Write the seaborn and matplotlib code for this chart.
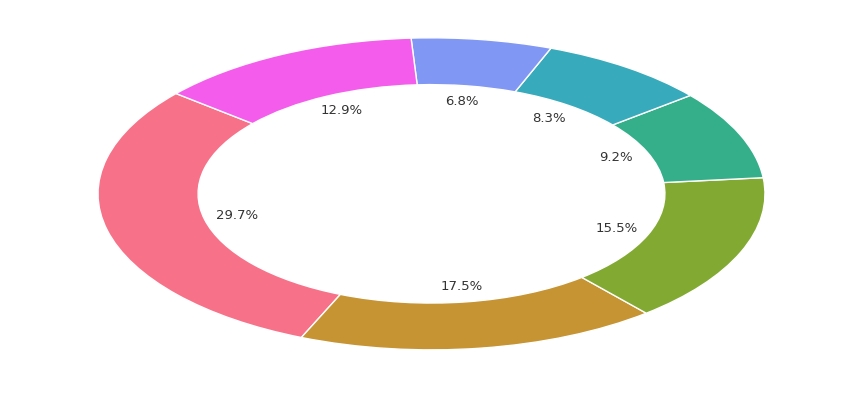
import matplotlib
matplotlib.use("Agg")
import matplotlib.pyplot as plt
import seaborn as sns

categories = ["A", "B", "C", "D", "E", "F", "G"]
values = [29.7, 17.5, 15.5, 9.2, 8.3, 6.8, 12.9]

colors = sns.color_palette("husl", len(values))

fig = plt.figure(figsize=(8.63, 3.96), dpi=100)
ax = fig.add_axes([0.017, 0.018, 0.966, 0.985])
wedges, texts, autotexts = ax.pie(
    values, colors=colors, startangle=140, counterclock=True,
    autopct="%1.1f%%", pctdistance=0.6,
    wedgeprops=dict(width=0.3, edgecolor="white", linewidth=1),
    textprops=dict(color="#333333", fontsize=9.5),
)
ax.set_aspect("auto")
ax.set_xlim(-1.25, 1.25)
ax.set_ylim(-1.25, 1.25)
fig.savefig("out.png", dpi=100)
